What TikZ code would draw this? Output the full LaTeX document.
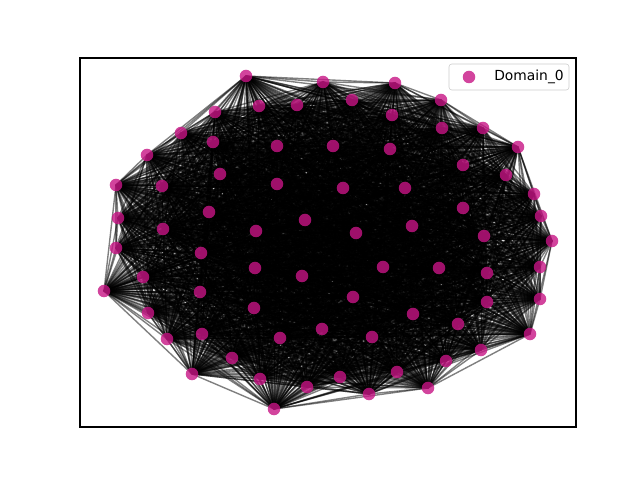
\documentclass[tikz,border=0pt]{standalone}
\usepackage{fontspec}
\setmainfont{DejaVu Sans}
\usetikzlibrary{backgrounds}
\definecolor{domaincol}{RGB}{199,21,133}
\tikzset{
  vertex/.style={circle,inner sep=0pt,minimum size=0.125in,fill=domaincol,fill opacity=0.8},
  link/.style={draw=black,draw opacity=0.5,line width=1pt},
}
\begin{document}
\begin{tikzpicture}[x=0.01in,y=-0.01in]
\useasboundingbox (0,0) rectangle (640,480);
% axes frame
\draw[line width=0.8pt] (80,58) rectangle (576,427);
% vertices of Domain_0
\foreach \i/\x/\y in {1/246/76,2/323/82,3/395/83,4/352/100,5/441/100,6/259/106,7/297/105,
  8/215/112,9/392/115,10/483/128,11/442/128,12/181/133,13/213/142,14/277/146,15/333/146,
  16/390/149,17/518/147,18/147/155,19/463/165,20/220/174,21/506/175,22/116/185,23/162/186,
  24/277/184,25/343/188,26/405/188,27/534/194,28/209/212,29/463/208,30/118/218,31/305/220,
  32/541/216,33/163/229,34/256/231,35/356/233,36/412/226,37/484/236,38/552/241,39/116/248,
  40/201/253,41/255/268,42/302/276,43/383/267,44/439/268,45/487/273,46/540/267,47/143/277,
  48/104/291,49/200/292,50/254/308,51/353/297,52/487/302,53/540/299,54/148/313,55/413/314,
  56/458/324,57/322/329,58/167/339,59/202/334,60/280/338,61/372/337,62/530/334,63/481/350,
  64/232/358,65/446/361,66/192/374,67/260/379,68/340/377,69/397/372,70/307/387,71/369/394,
  72/428/388,73/274/409}
  \node[vertex] (v\i) at (\x,\y) {};
% every pair of vertices is linked
\begin{scope}[on background layer]
\foreach \i in {1,...,72} {
  \pgfmathtruncatemacro\k{\i+1}
  \foreach \j in {\k,...,73}
    \draw[link] (v\i.center) -- (v\j.center);
}
\end{scope}
% legend
\draw[draw=black!20,fill=white,fill opacity=0.8,rounded corners=2pt] (449,64) rectangle (569,90);
\node[vertex] (key) at (469,77) {};
\node[anchor=west,inner sep=0pt,font=\fontsize{10pt}{12pt}\selectfont] (keytext) at (494,77) {Domain\_0};
\end{tikzpicture}
\end{document}
